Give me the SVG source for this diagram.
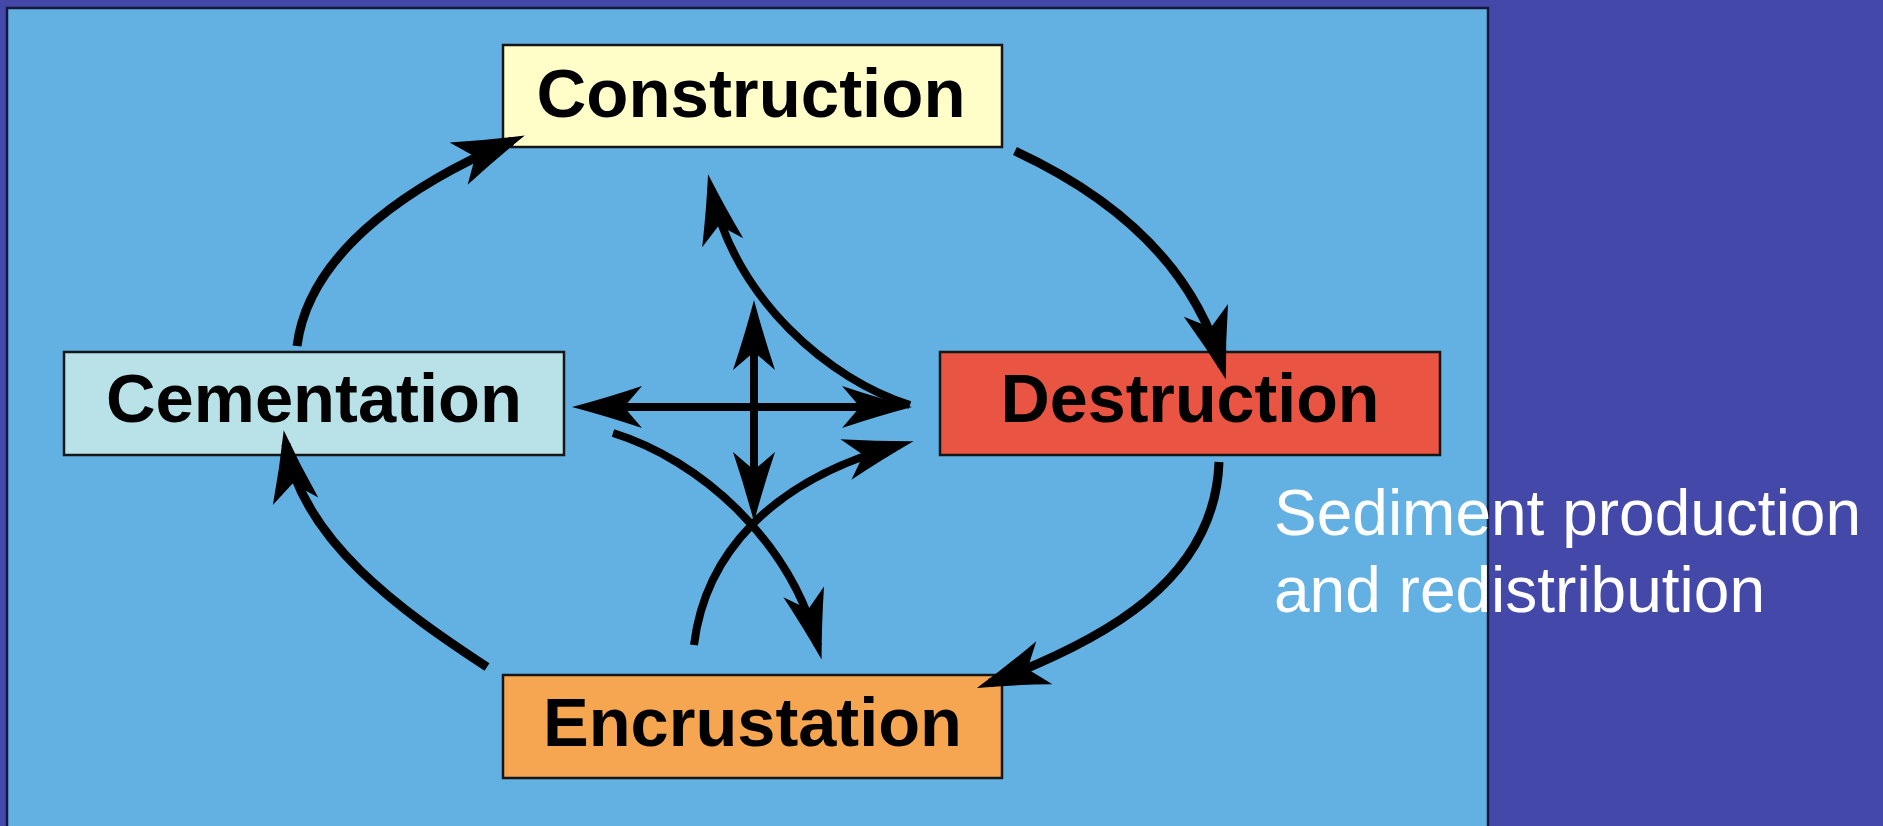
<svg xmlns="http://www.w3.org/2000/svg" width="1883" height="826" viewBox="0 0 1883 826">
  <style>
    .box { stroke: #161616; stroke-width: 2.5; }
    .lbl { font-family: "Liberation Sans", Arial, sans-serif; font-weight: bold; font-size: 68px; fill: #000; text-anchor: middle; }
    .arc { fill: none; stroke: #000; stroke-width: 9; marker-end: url(#headL); }
    .mid { fill: none; stroke: #000; stroke-width: 8; marker-end: url(#head); }
    .dbl { marker-start: url(#head); }
    .note { font-family: "Liberation Sans", Arial, sans-serif; font-size: 64px; fill: #fff; }
  </style>
  <defs>
    <marker id="head" markerUnits="userSpaceOnUse" orient="auto-start-reverse" markerWidth="200" markerHeight="200" refX="0" refY="0" overflow="visible">
      <path d="M 14 0 Q -20 -9 -56 -21 L -38 0 L -56 21 Q -20 9 14 0 Z" fill="#000"/>
    </marker>
    <marker id="headL" markerUnits="userSpaceOnUse" orient="auto" markerWidth="200" markerHeight="200" refX="0" refY="0" overflow="visible">
      <path d="M 14 0 Q -22 -10 -58 -23 L -40 0 L -58 23 Q -22 10 14 0 Z" fill="#000"/>
    </marker>
  </defs>

  <rect x="0" y="0" width="1883" height="826" fill="#4448A9"/>
  <rect id="panel" x="7" y="8" width="1481" height="830" fill="#62B1E2" stroke="#15183C" stroke-width="2.5"/>

  <g id="construction">
    <rect class="box" x="503" y="45" width="499" height="102" fill="#FFFDC8"/>
    <text class="lbl" x="751" y="117" textLength="429" lengthAdjust="spacingAndGlyphs">Construction</text>
  </g>
  <g id="cementation">
    <rect class="box" x="64" y="352" width="500" height="103" fill="#B9E2E8"/>
    <text class="lbl" x="314" y="422" textLength="416" lengthAdjust="spacingAndGlyphs">Cementation</text>
  </g>
  <g id="destruction">
    <rect class="box" x="940" y="352" width="500" height="103" fill="#EA5442"/>
    <text class="lbl" x="1190" y="422" textLength="379" lengthAdjust="spacingAndGlyphs">Destruction</text>
  </g>
  <g id="encrustation">
    <rect class="box" x="503" y="675" width="499" height="103" fill="#F6A650"/>
    <text class="lbl" x="752.5" y="746" textLength="419" lengthAdjust="spacingAndGlyphs">Encrustation</text>
  </g>

  <g id="connectors">
    <path class="arc" d="M 297 346 C 310 245, 425 178, 512 141"/>
    <path class="arc" d="M 1015 151 C 1110 195, 1192 262, 1222 366"/>
    <path class="arc" d="M 1219 462 C 1215 580, 1105 640, 990 683"/>
    <path class="arc" d="M 487 667 C 400 610, 302 540, 286 444"/>
    <path class="mid dbl" d="M 586 407 L 898 407"/>
    <path class="mid dbl" d="M 754 314 L 754 508"/>
    <path class="mid" d="M 910 405 C 830 380, 735 300, 711 188"/>
    <path class="mid" d="M 613 433 C 700 460, 790 540, 818 646"/>
    <path class="mid" d="M 694 645 C 705 555, 770 480, 900 445"/>
  </g>

  <g id="caption">
    <text class="note" x="1274" y="535">Sediment production</text>
    <text class="note" x="1274" y="612">and redistribution</text>
  </g>
</svg>
